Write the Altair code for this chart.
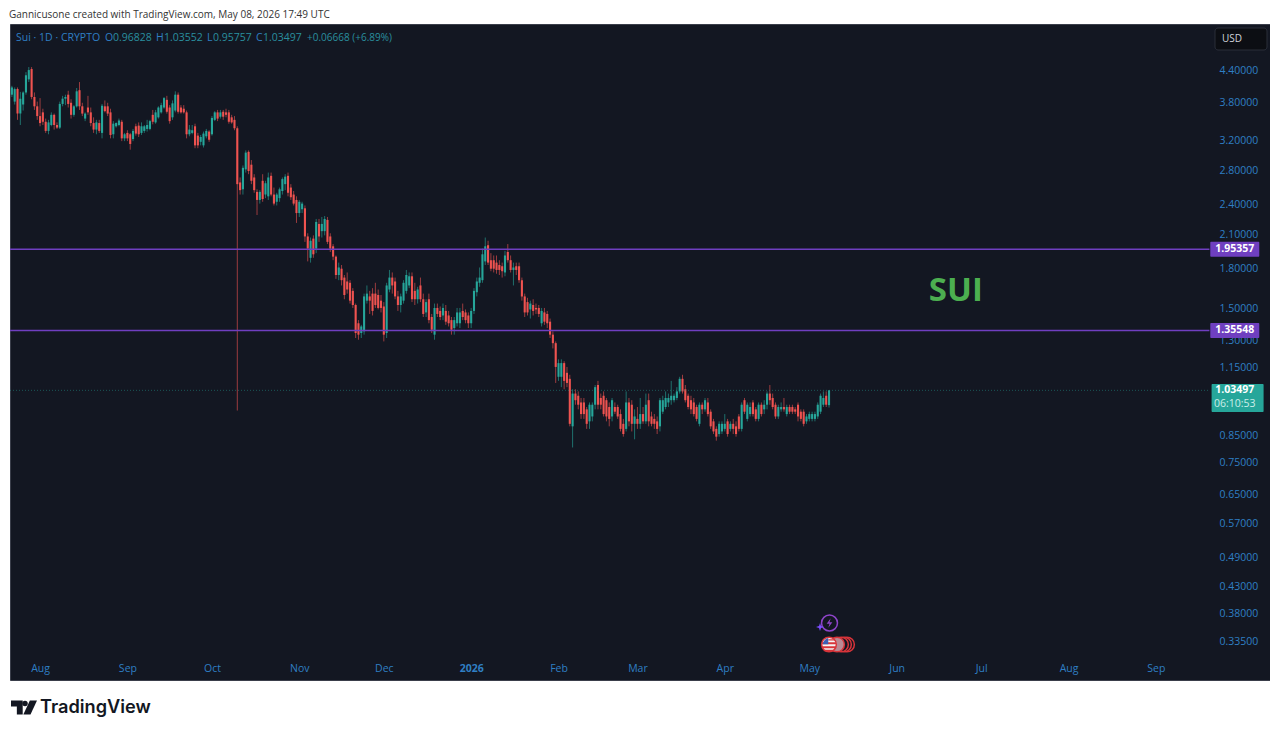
import altair as alt
import pandas as pd

START = "2025-07-22"
opens = [3.92,3.80,4.02,3.60,3.75,3.96,4.20,4.40,3.88,3.72,
3.56,3.62,3.47,3.33,3.42,3.58,3.42,3.38,3.76,3.85,
3.92,3.78,3.58,3.72,4.00,3.72,3.52,3.70,3.62,3.45,
3.35,3.45,3.30,3.72,3.72,3.62,3.28,3.40,3.42,3.47,
3.22,3.30,3.28,3.21,3.40,3.41,3.30,3.33,3.36,3.36,
3.58,3.46,3.54,3.62,3.70,3.83,3.70,3.54,3.65,3.92,
3.70,3.68,3.62,3.28,3.30,3.40,3.26,3.17,3.12,3.25,
3.32,3.28,3.50,3.62,3.55,3.63,3.62,3.62,3.54,3.50,
3.37,2.64,2.56,2.80,3.03,2.86,2.70,2.53,2.44,2.66,
2.50,2.48,2.72,2.50,2.42,2.46,2.54,2.62,2.72,2.58,
2.50,2.44,2.30,2.34,2.35,2.07,1.88,2.05,1.96,2.19,
2.12,2.12,2.23,2.07,1.98,1.89,1.74,1.79,1.72,1.69,
1.68,1.62,1.52,1.40,1.34,1.35,1.55,1.58,1.60,1.60,
1.59,1.55,1.51,1.34,1.63,1.72,1.69,1.58,1.52,1.55,
1.62,1.66,1.73,1.62,1.56,1.66,1.56,1.47,1.56,1.44,
1.33,1.50,1.48,1.45,1.48,1.45,1.42,1.37,1.40,1.40,
1.48,1.47,1.45,1.40,1.48,1.61,1.68,1.70,1.85,1.99,
1.86,1.86,1.84,1.82,1.81,1.76,1.93,1.86,1.78,1.81,
1.81,1.70,1.58,1.54,1.49,1.52,1.50,1.50,1.40,1.47,
1.46,1.41,1.33,1.28,1.10,1.10,1.17,1.12,1.09,0.88,
1.02,1.01,0.98,0.98,0.95,0.90,0.92,0.97,1.06,1.00,
1.01,0.99,0.96,0.92,0.96,0.96,0.93,0.89,0.87,0.98,
0.97,0.89,0.91,0.89,0.93,0.90,0.99,0.92,0.91,0.90,
0.88,0.94,0.96,0.98,0.99,0.99,1.00,1.03,1.09,1.04,
1.01,0.99,0.98,0.96,0.89,0.97,0.95,0.98,0.94,0.90,
0.87,0.85,0.86,0.87,0.90,0.87,0.89,0.88,0.92,0.87,
0.99,0.91,0.93,0.98,0.95,0.91,0.97,0.95,0.97,1.02,
1.00,0.97,0.92,0.95,0.96,0.93,0.96,0.96,0.95,0.97,
0.94,0.94,0.90,0.91,0.91,0.91,0.92,0.94,0.97,1.01,0.96828]
highs = [4.08,4.05,4.05,3.97,3.98,4.34,4.44,4.44,3.96,3.80,
3.86,3.68,3.52,3.50,3.62,3.60,3.46,3.80,3.90,3.92,
3.99,3.84,3.74,4.04,4.15,3.78,3.62,3.90,3.70,3.54,
3.50,3.50,3.76,3.82,3.78,3.68,3.48,3.46,3.52,3.50,
3.30,3.34,3.30,3.36,3.44,3.46,3.46,3.42,3.50,3.50,
3.66,3.66,3.72,3.78,3.88,3.90,3.74,3.82,3.98,3.96,
3.74,3.74,3.65,3.42,3.42,3.44,3.30,3.27,3.32,3.36,
3.34,3.56,3.64,3.66,3.66,3.66,3.68,3.66,3.58,3.56,
3.40,2.70,2.85,3.05,3.05,2.92,2.74,2.56,2.55,2.74,
2.66,2.76,2.76,2.58,2.52,2.58,2.70,2.74,2.76,2.62,
2.54,2.48,2.44,2.42,2.38,2.10,2.06,2.08,2.24,2.24,
2.26,2.27,2.26,2.10,2.00,1.90,1.84,1.82,1.74,1.76,
1.70,1.64,1.53,1.42,1.39,1.60,1.66,1.62,1.64,1.68,
1.63,1.59,1.54,1.68,1.78,1.76,1.72,1.62,1.60,1.70,
1.78,1.76,1.76,1.68,1.65,1.72,1.60,1.56,1.60,1.46,
1.53,1.53,1.51,1.53,1.52,1.48,1.44,1.44,1.50,1.50,
1.53,1.49,1.47,1.50,1.64,1.72,1.80,1.96,2.06,2.03,
1.92,1.90,1.90,1.86,1.84,1.94,2.00,1.90,1.84,1.84,
1.84,1.72,1.60,1.57,1.55,1.56,1.53,1.52,1.50,1.50,
1.48,1.43,1.35,1.29,1.19,1.19,1.18,1.15,1.11,1.04,
1.04,1.03,1.00,1.00,0.96,0.98,0.98,1.06,1.08,1.02,
1.03,1.00,0.98,1.00,0.98,0.97,0.95,0.91,1.03,1.00,
0.99,0.95,0.96,1.00,0.96,1.02,1.02,0.94,0.93,0.92,
1.00,1.01,1.03,1.02,1.08,1.02,1.05,1.10,1.11,1.06,
1.02,1.01,1.00,0.97,0.98,0.98,1.00,1.00,0.95,0.91,
0.88,0.90,0.90,0.93,0.91,0.90,0.91,0.90,0.93,0.98,
1.00,0.98,0.98,0.99,0.96,0.98,0.98,0.99,1.03,1.06,
1.02,0.98,0.97,0.98,1.00,0.97,0.97,0.97,0.96,0.98,
0.95,0.95,0.93,0.94,0.94,0.94,0.98,1.02,1.03,1.03,1.03552]
lows = [3.88,3.75,3.50,3.42,3.65,3.92,4.15,3.84,3.66,3.50,
3.40,3.42,3.30,3.28,3.40,3.35,3.36,3.36,3.72,3.74,
3.70,3.52,3.55,3.70,3.66,3.56,3.48,3.58,3.40,3.30,
3.28,3.30,3.22,3.62,3.56,3.22,3.22,3.38,3.40,3.18,
3.18,3.18,3.06,3.18,3.26,3.24,3.27,3.30,3.32,3.34,
3.43,3.44,3.52,3.60,3.68,3.60,3.44,3.50,3.62,3.60,
3.60,3.60,3.22,3.25,3.28,3.08,3.08,3.12,3.09,3.22,
3.17,3.26,3.48,3.48,3.52,3.50,3.54,3.44,3.44,3.34,
0.945,2.50,2.50,2.76,2.74,2.62,2.52,2.28,2.40,2.42,
2.46,2.44,2.48,2.38,2.38,2.42,2.50,2.55,2.48,2.44,
2.38,2.20,2.26,2.30,2.02,1.85,1.84,1.88,1.92,2.02,
2.06,2.08,2.00,1.93,1.86,1.71,1.70,1.66,1.56,1.60,
1.53,1.50,1.31,1.30,1.31,1.33,1.53,1.46,1.45,1.50,
1.49,1.47,1.29,1.31,1.61,1.60,1.56,1.48,1.47,1.53,
1.60,1.64,1.54,1.52,1.53,1.54,1.44,1.44,1.40,1.34,
1.30,1.44,1.42,1.42,1.39,1.38,1.33,1.33,1.38,1.37,
1.42,1.40,1.37,1.37,1.46,1.58,1.65,1.68,1.82,1.82,
1.77,1.76,1.75,1.74,1.72,1.73,1.84,1.76,1.66,1.74,
1.68,1.55,1.44,1.45,1.43,1.45,1.46,1.44,1.38,1.39,
1.37,1.31,1.25,1.07,1.08,1.05,1.04,1.05,0.88,0.80,
0.97,0.95,0.91,0.91,0.87,0.87,0.90,0.95,0.95,0.95,
0.92,0.90,0.88,0.90,0.93,0.91,0.86,0.84,0.86,0.88,
0.86,0.83,0.87,0.87,0.89,0.89,0.88,0.88,0.87,0.85,
0.86,0.93,0.95,0.96,0.97,0.98,0.99,1.02,1.02,0.98,
0.95,0.93,0.92,0.90,0.88,0.93,0.94,0.92,0.87,0.85,
0.825,0.84,0.85,0.86,0.84,0.86,0.85,0.84,0.86,0.86,
0.93,0.90,0.92,0.92,0.90,0.90,0.92,0.93,0.95,0.97,
0.95,0.91,0.91,0.94,0.94,0.92,0.93,0.93,0.93,0.90,
0.90,0.88,0.89,0.90,0.90,0.90,0.91,0.93,0.96,0.96,0.95757]
closes = [4.05,4.02,3.60,3.85,3.96,4.28,4.38,3.88,3.72,3.56,
3.45,3.47,3.33,3.46,3.58,3.42,3.38,3.76,3.85,3.88,
3.76,3.58,3.72,3.98,3.72,3.60,3.60,3.62,3.45,3.35,
3.46,3.33,3.73,3.64,3.60,3.27,3.44,3.45,3.49,3.22,
3.28,3.22,3.14,3.33,3.29,3.28,3.40,3.40,3.42,3.48,
3.47,3.62,3.70,3.74,3.86,3.63,3.48,3.77,3.92,3.63,
3.62,3.62,3.28,3.35,3.34,3.12,3.12,3.24,3.29,3.33,
3.20,3.53,3.62,3.52,3.62,3.55,3.58,3.47,3.46,3.37,
2.62,2.55,2.82,3.02,2.78,2.66,2.55,2.44,2.53,2.45,
2.63,2.70,2.50,2.40,2.50,2.56,2.68,2.71,2.52,2.47,
2.40,2.30,2.42,2.40,2.07,1.96,2.03,1.91,2.21,2.07,
2.19,2.24,2.02,1.96,1.89,1.74,1.80,1.70,1.59,1.63,
1.55,1.52,1.34,1.33,1.38,1.58,1.60,1.55,1.48,1.52,
1.50,1.50,1.33,1.66,1.72,1.66,1.58,1.52,1.58,1.68,
1.74,1.73,1.56,1.56,1.63,1.56,1.46,1.54,1.42,1.36,
1.50,1.46,1.44,1.50,1.41,1.40,1.36,1.42,1.47,1.47,
1.44,1.42,1.40,1.48,1.62,1.69,1.72,1.91,1.98,1.84,
1.79,1.79,1.78,1.78,1.77,1.90,1.86,1.78,1.80,1.78,
1.70,1.58,1.47,1.47,1.53,1.48,1.49,1.46,1.48,1.41,
1.40,1.33,1.28,1.15,1.17,1.17,1.08,1.07,0.89,1.02,
0.99,0.97,0.93,0.93,0.89,0.97,0.97,1.05,0.97,0.97,
0.93,0.92,0.91,0.99,0.94,0.92,0.87,0.85,0.98,0.90,
0.89,0.92,0.89,0.93,0.90,0.97,0.90,0.89,0.89,0.87,
0.99,0.99,1.00,1.00,1.01,1.01,1.03,1.09,1.03,0.99,
0.96,0.95,0.93,0.91,0.97,0.95,0.99,0.93,0.88,0.86,
0.84,0.89,0.89,0.89,0.85,0.89,0.87,0.85,0.87,0.97,
0.94,0.97,0.96,0.93,0.91,0.97,0.93,0.97,1.02,0.99,
0.96,0.92,0.96,0.96,0.95,0.96,0.94,0.94,0.94,0.92,
0.91,0.89,0.92,0.93,0.93,0.93,0.97,1.01,1.00,0.97,1.03497]

price_ticks = [4.4,3.8,3.2,2.8,2.4,2.1,1.8,1.5,1.3,1.15,0.85,0.75,0.65,0.57,0.49,0.43,0.38,0.335]
level_prices = [1.95357, 1.35548]
level_labels = ["1.95357", "1.35548"]
last_price = 1.03497
countdown = "06:10:53"
note_text = "SUI"

PANEL_BG = "#131722"; UP = "#26a69a"; DOWN = "#ef5350"; PURPLE = "#6f3fc0"; TICK = "#2f7fc4"
FONT = "Open Sans"

days = pd.date_range(START, periods=len(closes)).strftime("%Y-%m-%d").tolist()
df = pd.DataFrame({"day": days, "o": opens, "h": highs, "l": lows, "c": closes})
df["dir"] = ["up" if c >= o else "down" for o, c in zip(opens, closes)]

xscale = alt.Scale(type="utc", nice=False, padding=0, domain=[
    alt.DateTime(year=2025, month=7, date=21, hours=8, utc=True),
    alt.DateTime(year=2026, month=10, date=11, hours=12, utc=True)])
yscale = alt.Scale(type="log", domain=[0.2807, 5.39], nice=False, zero=False)
colour = alt.Color("dir:N", scale=alt.Scale(domain=["up", "down"], range=[UP, DOWN]), legend=None)

months = [(2025,8),(2025,9),(2025,10),(2025,11),(2025,12),(2026,1),(2026,2),(2026,3),(2026,4),(2026,5),(2026,6),(2026,7),(2026,8),(2026,9)]
xaxis = alt.Axis(values=[alt.DateTime(year=y, month=m, date=1, utc=True) for y, m in months],
    title=None, grid=False, domain=False, ticks=False, offset=-12, labelPadding=0,
    labelBaseline="middle", labelFontSize=10.5, labelColor=TICK, labelFont=FONT, labelOverlap=False, labelFlush=False,
    labelExpr="utcmonth(datum.value)==0 ? utcFormat(datum.value,'%Y') : utcFormat(datum.value,'%b')",
    labelFontWeight={"condition": {"test": "utcmonth(datum.value)==0", "value": "bold"}, "value": "normal"})
yaxis = alt.Axis(values=price_ticks, title=None, grid=False, domain=False, ticks=False, orient="right", offset=-51,
    labelPadding=0, labelOffset=1, labelAlign="left", format=".5f", labelFontSize=10.5, labelColor=TICK, labelFont=FONT,
    labelOverlap=False, labelFlush=False)

base = alt.Chart(df)
X = alt.X("day:T", scale=xscale, axis=xaxis)
wicks = base.mark_rule(strokeWidth=1, opacity=0.62).encode(x=X, y=alt.Y("l:Q", scale=yscale, axis=yaxis), y2="h:Q", color=colour)
bodies = base.mark_bar(size=2.1).encode(x=alt.X("day:T", scale=xscale, axis=None), y=alt.Y("o:Q", scale=yscale, axis=None), y2="c:Q", color=colour)

XP = alt.X("x:T", scale=xscale, axis=None)
YP = alt.Y("p:Q", scale=yscale, axis=None)
LINE_END = "2026-09-20"; TAG_X = "2026-09-29"
lv = pd.DataFrame({"x": ["2025-07-21T08:00:00Z"] * 2, "x2": [LINE_END] * 2, "p": level_prices})
levels = alt.Chart(lv).mark_rule(color=PURPLE, strokeWidth=1.4).encode(x=XP, x2="x2:T", y=YP)
lp = pd.DataFrame({"x": ["2025-07-21T08:00:00Z"], "x2": [LINE_END], "p": [last_price]})
last_line = alt.Chart(lp).mark_rule(color=UP, strokeWidth=1, strokeDash=[1, 2], opacity=0.45).encode(x=XP, x2="x2:T", y=YP)
tagdf = pd.DataFrame({"x": [TAG_X] * 2, "p": level_prices, "t": level_labels})
tags = alt.Chart(tagdf).mark_rect(color=PURPLE, width=49, height=15, cornerRadius=1).encode(x=XP, y=YP)
tag_text = alt.Chart(tagdf).mark_text(color="white", fontWeight="bold", fontSize=10.5, font=FONT).encode(x=XP, y=YP, text="t:N")
cur = pd.DataFrame({"x": ["2026-09-30"], "p": [1.0]})
cur_box = alt.Chart(cur).mark_rect(color=UP, width=52, height=28, cornerRadius=1).encode(x=XP, y=YP)
cur_price = alt.Chart(pd.DataFrame({"x": ["2026-09-29"], "p": [last_price], "t": [f"{last_price:.5f}"]})).mark_text(
    fontSize=10.5, font=FONT, color="white", fontWeight="bold").encode(x=XP, y=YP, text="t:N")
cur_timer = alt.Chart(pd.DataFrame({"x": ["2026-09-29"], "p": [0.971], "t": [countdown]})).mark_text(
    fontSize=10.5, font=FONT, color="#cdeee9").encode(x=XP, y=YP, text="t:N")
note = alt.Chart(pd.DataFrame({"x": ["2026-06-22"], "p": [1.62], "t": [note_text]})).mark_text(
    color="#4caf50", fontSize=33, fontWeight="bold", font=FONT).encode(x=XP, y=YP, text="t:N")

DUMMY = pd.DataFrame({"a": [0]})

def px_text(x, y, t, c, **kw):
    return alt.Chart(DUMMY).mark_text(align="left", baseline="middle", color=c, **kw).encode(
        x=alt.value(x), y=alt.value(y), text=alt.value(t))

BL = "#2f7fc4"; TL = "#2a8f9f"
hk = dict(fontSize=10.5, font=FONT)
header = [px_text(6, 13.5, "Sui · 1D · CRYPTO", BL, **hk),
    px_text(95, 13.5, "O", BL, **hk), px_text(103, 13.5, "0.96828", TL, **hk),
    px_text(146, 13.5, "H", BL, **hk), px_text(154, 13.5, "1.03552", TL, **hk),
    px_text(197, 13.5, "L", BL, **hk), px_text(203, 13.5, "0.95757", TL, **hk),
    px_text(246, 13.5, "C", BL, **hk), px_text(253, 13.5, "1.03497", TL, **hk),
    px_text(297, 13.5, "+0.06668 (+6.89%)", TL, fontSize=10, font=FONT)]
credit = px_text(-1, -9.5, "Gannicusone created with TradingView.com, May 08, 2026 17:49 UTC", "#333333", fontSize=10, font=FONT)
wordmark = px_text(30, 684, "TradingView", "#131722", fontSize=18.2, fontWeight=600, font="Inter")

usd_box = alt.Chart(DUMMY).mark_rect(color="#0c0e13", stroke="#2a2e39", cornerRadius=3).encode(
    x=alt.value(1205), x2=alt.value(1257), y=alt.value(4), y2=alt.value(26))
usd = px_text(1212, 15, "USD", "#d1d4dc", fontSize=10, font=FONT)

def glyph(path, x, y, size, colour_):
    return alt.Chart(DUMMY).mark_point(shape=path, filled=True, size=size, color=colour_, opacity=1).encode(
        x=alt.value(x), y=alt.value(y))

LOGO_T = "M-1,-0.54H-0.1V0.54H-0.55V-0.08H-1Z"
LOGO_7 = "M0.45,-0.54H1L0.5,0.54H-0.05Z"
logo = [glyph(LOGO_T, 14, 683.5, 676, "#131722"), glyph(LOGO_7, 14, 683.5, 676, "#131722"),
        alt.Chart(DUMMY).mark_circle(size=30, color="#131722", opacity=1).encode(x=alt.value(15), y=alt.value(679.5))]

def circ(x, y, size, **kw):
    return alt.Chart(DUMMY).mark_point(shape="circle", size=size, opacity=1, **kw).encode(x=alt.value(x), y=alt.value(y))

icons = [
    circ(819.5, 599, 254, stroke="#8e44c9", strokeWidth=1.5),
    glyph("M0.25,-1L-0.6,0.15H0L-0.25,1L0.6,-0.15H0Z", 819.5, 599, 90, "#8e44c9"),
    glyph("M0,-1L0.25,-0.25L1,0L0.25,0.25L0,1L-0.25,0.25L-1,0L-0.25,-0.25Z", 810, 603, 64, "#7c4dff"),
    circ(837, 620.5, 216, stroke="#d8343a", strokeWidth=1.5, fill=PANEL_BG),
    circ(834, 620.5, 216, stroke="#d8343a", strokeWidth=1.5, fill=PANEL_BG),
    circ(831, 620.5, 216, stroke="#d8343a", strokeWidth=1.5, fill=PANEL_BG),
    circ(827, 620.5, 216, stroke="#d8343a", strokeWidth=1.5, fill="#b98b95"),
    circ(819, 620.5, 216, stroke="#d8343a", strokeWidth=1.5, fill="#f5f5f5"),
    glyph("M-0.95,-0.3H0.95V-0.05H-0.95ZM-0.95,0.25H0.95V0.5H-0.95ZM-0.7,0.72H0.7V0.92H-0.7ZM-0.1,-0.72H0.8V-0.55H-0.1Z", 819, 620.5, 216, "#d8343a"),
    glyph("M-0.85,-0.05H-0.1V-0.9A1,1 0 0 0 -0.85,-0.05Z", 819, 620.5, 216, "#3b5fb5"),
]

chart = alt.layer(
    wicks, bodies, last_line, levels,
    tags, tag_text, cur_box, cur_price, cur_timer, note, *header, credit, wordmark, *logo, usd_box, usd, *icons,
).resolve_axis(x="independent", y="independent"
).properties(width=1260, height=656, autosize="none",
    padding={"left": 2, "top": 16, "right": 0, "bottom": 46}, background="white"
).configure_view(fill=PANEL_BG, stroke="#3a3e4a", strokeWidth=1)

chart.save("out.html", embed_options={"renderer": "svg", "actions": False})
